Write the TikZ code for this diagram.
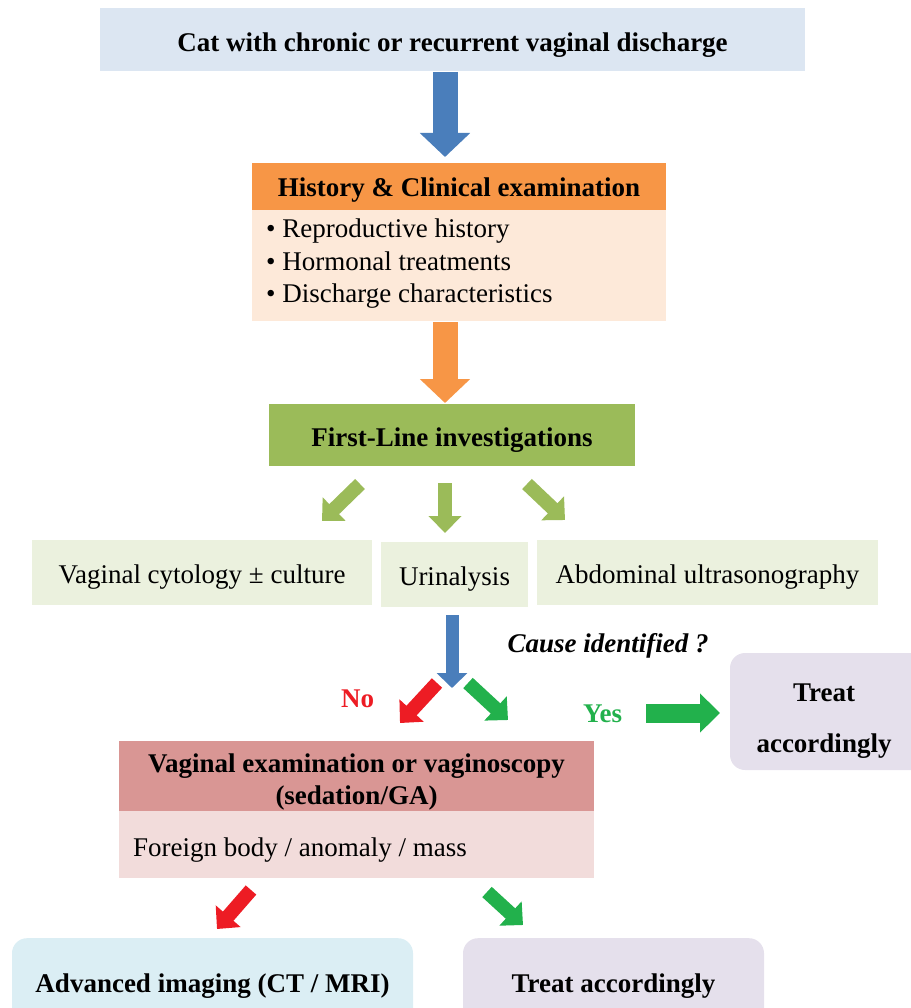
\documentclass[tikz,border=0pt]{standalone}
\usepackage{fontspec}
\setmainfont{Liberation Serif}
\usetikzlibrary{arrows.meta}
\definecolor{topblue}{HTML}{DCE6F2}
\definecolor{arrblue}{HTML}{4A7EBB}
\definecolor{orhead}{HTML}{F79646}
\definecolor{orbody}{HTML}{FDE9D9}
\definecolor{grbox}{HTML}{9BBB59}
\definecolor{grlight}{HTML}{EBF1DE}
\definecolor{redA}{HTML}{ED1C24}
\definecolor{greenA}{HTML}{22B14C}
\definecolor{rosehead}{HTML}{D99694}
\definecolor{rosebody}{HTML}{F2DCDB}
\definecolor{lav}{HTML}{E5E0EC}
\definecolor{cyanl}{HTML}{DBEEF4}
\newcommand\mysize{\fontsize{27}{32}\selectfont}
\tikzset{
  box/.style={draw=none, inner sep=0pt, align=center, font=\mysize\bfseries, text height=22.5pt, text depth=0pt},
  plainbox/.style={draw=none, inner sep=0pt, align=center, font=\mysize, text height=22.5pt, text depth=0pt},
  fillbox/.style={draw=none, inner sep=0pt},
  rbox/.style={draw=none, inner sep=0pt, rounded corners=15pt},
  txt/.style={inner sep=0pt, align=center, font=\mysize\bfseries},
  bigarrow/.style={line width=25pt, -{Triangle[length=24pt,width=49pt]}},
  smallarrow/.style={line width=14pt, -{Triangle[length=17pt,width=32pt]}},
}
\begin{document}
\begin{tikzpicture}[x=1pt,y=-1pt]
\useasboundingbox (0,0) rectangle (910,1008);
% top
\node[box, fill=topblue, minimum width=705, minimum height=63, text height=24pt] (start) at (452.5,39.5) {Cat with chronic or recurrent vaginal discharge};
% history
\node[box, fill=orhead, minimum width=414, minimum height=47, text height=20.5pt] (hist) at (459,186.5) {History \& Clinical examination};
\node[fillbox, fill=orbody, minimum width=414, minimum height=111, anchor=north] (histb) at (hist.south) {};
\node[txt, align=left, anchor=west, font=\fontsize{27}{32.5}\selectfont] (histt) at (266,264) {• Reproductive history\\• Hormonal treatments\\• Discharge characteristics};
% first line
\node[box, fill=grbox, minimum width=366, minimum height=62] (first) at (452,435) {First-Line investigations};
% tests
\node[plainbox, fill=grlight, minimum width=340, minimum height=65] (cyto) at (202,572.5) {Vaginal cytology ± culture};
\node[plainbox, fill=grlight, minimum width=147, minimum height=65] (uri) at (454.5,574.5) {Urinalysis};
\node[plainbox, fill=grlight, minimum width=341, minimum height=65] (abd) at (707.5,572.5) {Abdominal ultrasonography};
% question
\node[txt, font=\mysize\bfseries\itshape] (cause) at (608,646) {Cause identified ?};
\node[txt, text=redA] (no) at (357.5,699) {No};
\node[txt, text=greenA] (yes) at (602.5,714) {Yes};
% treat right
\node[rbox, fill=lav, minimum width=200, minimum height=117] (treat1) at (830,711.5) {};
\node[txt, font=\fontsize{27}{51}\selectfont\bfseries] (treat1t) at (824,721.5) {Treat\\accordingly};
% vaginal exam
\node[fillbox, fill=rosehead, minimum width=475, minimum height=70] (vag) at (356.5,776) {};
\node[txt] (vagt1) at (356.5,782) {Vaginal examination or vaginoscopy\\(sedation/GA)};
\node[fillbox, fill=rosebody, minimum width=475, minimum height=67, anchor=north] (vagb) at (vag.south) {};
\node[txt, font=\mysize, anchor=west] (vagt) at (133,850) {Foreign body / anomaly / mass};
% bottom
\node[rbox, fill=cyanl, minimum width=401, minimum height=90, anchor=north] (adv) at (212.5,938) {};
\node[txt] (advt) at (212.5,986) {Advanced imaging (CT / MRI)};
\node[rbox, fill=lav, minimum width=301, minimum height=90, anchor=north] (treat2) at (613.5,938) {};
\node[txt] (treat2t) at (613.5,986) {Treat accordingly};
% arrow coordinates
\coordinate (a1s) at (445,72);   \coordinate (a1e) at (445,157);
\coordinate (a2s) at (445,322);  \coordinate (a2e) at (445,403);
\coordinate (g1s) at (360,484);  \coordinate (g1e) at (322,521);
\coordinate (g2s) at (445,483);  \coordinate (g2e) at (445,533);
\coordinate (g3s) at (527,484);  \coordinate (g3e) at (565,520);
\coordinate (b2s) at (452,615);  \coordinate (b2e) at (452,688);
\coordinate (rns) at (437,683);  \coordinate (rne) at (400,723);
\coordinate (gys) at (468,683);  \coordinate (gye) at (508,720);
\coordinate (yss) at (646,713);  \coordinate (yse) at (720,713);
\coordinate (r3s) at (251,890);  \coordinate (r3e) at (217,929);
\coordinate (g4s) at (487,892);  \coordinate (g4e) at (523,925);
% arrows
\draw[bigarrow, arrblue] (a1s) -- (a1e);
\draw[bigarrow, orhead] (a2s) -- (a2e);
\draw[smallarrow, grbox] (g1s) -- (g1e);
\draw[smallarrow, grbox] (g2s) -- (g2e);
\draw[smallarrow, grbox] (g3s) -- (g3e);
\draw[arrblue, line width=13pt, -{Triangle[length=15pt,width=30pt]}] (b2s) -- (b2e);
\draw[smallarrow, redA] (rns) -- (rne);
\draw[smallarrow, greenA] (gys) -- (gye);
\draw[greenA, line width=19pt, -{Triangle[length=20pt,width=38pt]}] (yss) -- (yse);
\draw[smallarrow, redA] (r3s) -- (r3e);
\draw[smallarrow, greenA] (g4s) -- (g4e);
\end{tikzpicture}
\end{document}
